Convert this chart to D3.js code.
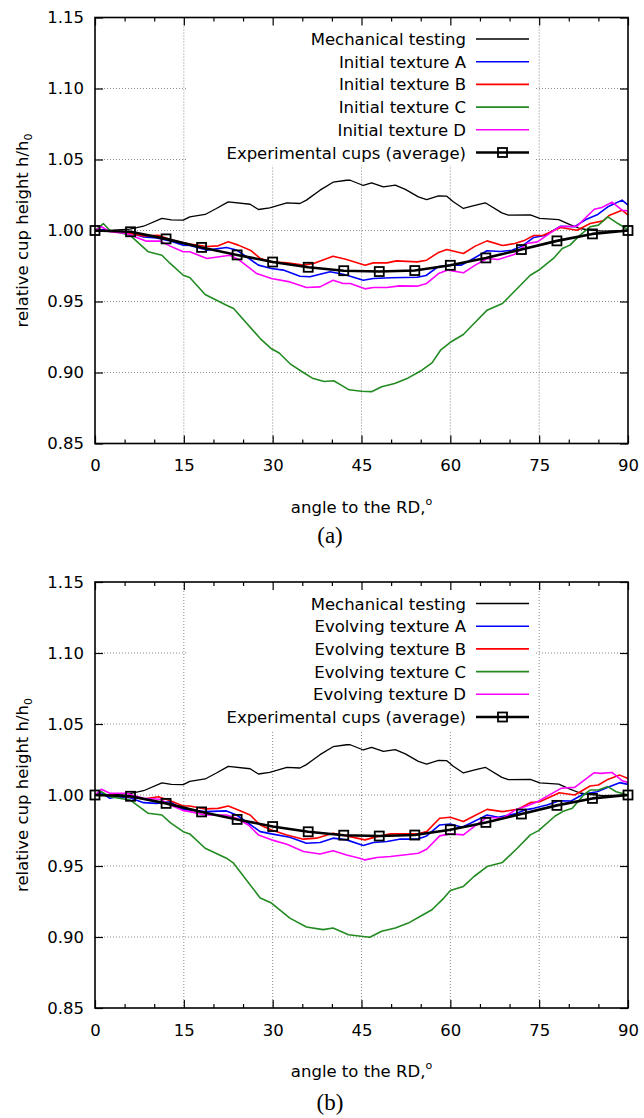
<!DOCTYPE html>
<html>
<head>
<meta charset="utf-8">
<script src="https://cdn.jsdelivr.net/npm/d3@7"></script>
<style>
  html, body { margin: 0; padding: 0; background: #fff; }
  svg { display: block; font-family: "DejaVu Sans", sans-serif; }
</style>
</head>
<body>
<svg id="chart" width="644" height="1118"></svg>
<script>
// ---------------- DATA ----------------
const xTicks = [0, 15, 30, 45, 60, 75, 90];
const yTicks = [0.85, 0.90, 0.95, 1.00, 1.05, 1.10, 1.15];

const legendA = ["Mechanical testing", "Initial texture A", "Initial texture B",
                 "Initial texture C", "Initial texture D", "Experimental cups (average)"];
const legendB = ["Mechanical testing", "Evolving texture A", "Evolving texture B",
                 "Evolving texture C", "Evolving texture D", "Experimental cups (average)"];
const captions = ["(a)", "(b)"];
const seriesColors = ["#000000", "#0000ff", "#ff0000", "#228b22", "#ff00ff", "#000000"];

// Mechanical testing (same in both panels): [angle, h/h0]
const mechanical = [[0,1.0],[3,1.0003],[5.9,1.0009],[8.2,1.003],[11.3,1.0085],[12.9,1.0075],
  [14.9,1.0073],[16,1.0096],[18.6,1.0113],[20.5,1.0155],[22.5,1.0202],[26.2,1.0185],
  [27.6,1.0148],[29.5,1.016],[32.4,1.0195],[34.6,1.019],[35.7,1.0214],[38,1.0284],
  [40.2,1.034],[42.5,1.0354],[43.1,1.0354],[45.3,1.0317],[46.7,1.0336],[48.7,1.0307],
  [50.7,1.032],[52.4,1.029],[54.6,1.0237],[56,1.0218],[58,1.0244],[59.4,1.0242],
  [60.5,1.0202],[62.2,1.0155],[63.8,1.0174],[65.9,1.0195],[68.7,1.0124],[69.8,1.0108],
  [73.5,1.011],[75.1,1.0085],[78.3,1.0077],[80.2,1.0042],[81.9,1.0014],[83.6,1.0002],
  [85.8,0.9995],[90,1.0]];

// Panel (a): initial textures
const initialA = [[0,1.0],[1.4,1.0007],[3.1,0.9995],[5.8,0.9984],[8.2,0.9955],[10.4,0.9948],
  [12.7,0.9927],[14.9,0.9897],[16,0.9894],[18.9,0.9862],[22.2,0.988],[23.9,0.9862],
  [25.6,0.9815],[27.6,0.9756],[29.8,0.9732],[31.8,0.9721],[34.6,0.9678],[36.3,0.9674],
  [39.7,0.9709],[41.9,0.9692],[43.1,0.9678],[45.3,0.965],[47,0.9662],[49.9,0.9667],
  [54.4,0.9671],[55.9,0.9683],[57.9,0.9744],[60.2,0.9756],[61.9,0.9756],[64.2,0.981],
  [66.2,0.9857],[68.4,0.9852],[70.4,0.9861],[72.1,0.989],[74.1,0.9951],[76.1,0.9967],
  [78.6,1.003],[80.9,1.0026],[82.9,1.0077],[84.9,1.0113],[86.6,1.0167],[89,1.0214],[90,1.0178]];

const initialB = [[0,1.0],[2.5,0.9995],[5.3,0.9984],[8.2,0.9962],[10.7,0.9967],[12.7,0.9937],
  [14.9,0.9913],[16,0.9904],[18.9,0.9887],[20.8,0.9892],[22.5,0.992],[24.2,0.9897],
  [26.4,0.9857],[27.9,0.9803],[29.8,0.9779],[32.4,0.9772],[35.2,0.9756],[36.9,0.9768],
  [40.2,0.9819],[42.5,0.9796],[45.6,0.9756],[47,0.9772],[49.3,0.9772],[50.9,0.9786],
  [54.4,0.9779],[56,0.9791],[57.9,0.9843],[59.4,0.9866],[62.2,0.9838],[64.2,0.989],
  [66.2,0.9927],[68.8,0.9894],[70.9,0.9908],[72.6,0.9932],[74.1,0.9965],[75.6,0.9965],
  [78.6,1.0021],[81.4,1.0002],[83.6,1.0049],[85.8,1.0068],[86.9,1.0108],[89,1.0143],[90,1.0108]];

const initialC = [[0,1.0],[1.4,1.0049],[2.5,1.0002],[5.9,0.9967],[9,0.985],[11.3,0.9826],
  [12.7,0.9768],[14.9,0.9685],[16,0.9669],[18.6,0.9549],[22.2,0.9474],[23.4,0.9451],
  [27.9,0.9239],[29.8,0.9167],[31.1,0.9137],[32.9,0.9063],[34.9,0.9007],[36.7,0.896],
  [38.7,0.8937],[40.3,0.8942],[41.5,0.8913],[42.9,0.8878],[45,0.8868],[46.7,0.8865],
  [48.4,0.8899],[50.6,0.8922],[52.9,0.8962],[55.2,0.9016],[56.9,0.9068],[58.4,0.9160],
  [60,0.9213],[62.2,0.9268],[64,0.9345],[66.2,0.9439],[68.8,0.9486],[71.3,0.9592],
  [73.5,0.9685],[74.9,0.972],[77.4,0.9803],[78.9,0.9873],[80.2,0.9897],[81.9,0.9967],
  [83.6,1.0026],[85,1.0038],[86.6,1.0096],[88.3,1.0049],[90,1.0007]];

const initialD = [[0,1.0],[1.1,1.0026],[2.5,0.9991],[5.3,0.9979],[8.7,0.9925],[11,0.9925],
  [12.7,0.989],[14.9,0.985],[16,0.985],[18.9,0.9803],[22.8,0.9826],[24.2,0.9796],
  [27.3,0.9697],[29.8,0.9662],[32.9,0.9638],[35.7,0.9599],[38,0.9603],[40.2,0.965],
  [41.9,0.9627],[43.1,0.9627],[45.6,0.9589],[47,0.9599],[49.3,0.9599],[51.4,0.961],
  [54.4,0.9608],[56,0.9627],[58,0.9697],[59.6,0.9721],[62.2,0.9702],[64.2,0.9756],
  [66.2,0.9803],[68.1,0.9796],[70.9,0.9833],[72.9,0.9908],[74.7,0.992],[78.4,1.0026],
  [81.4,1.0031],[84.3,1.015],[85.6,1.0162],[87.3,1.02],[89,1.0143],[90,1.0138]];

// Panel (b): evolving textures
const evolvingA = [[0,1.0],[1.1,1.0016],[2.5,0.9977],[3.7,0.9988],[5.9,0.9981],[8.2,0.9946],
  [10.4,0.9941],[12.7,0.9953],[14.9,0.9895],[16,0.9895],[18.6,0.9883],[22.2,0.9888],
  [23.9,0.9859],[25.9,0.9801],[27.9,0.9742],[29.8,0.9726],[32.9,0.9703],[35.7,0.966],
  [38,0.9665],[40.2,0.9696],[42.5,0.9684],[45.3,0.9644],[47,0.9665],[49.3,0.9672],
  [51.4,0.9689],[54.4,0.9689],[56,0.9712],[58.2,0.9789],[60,0.9796],[62,0.9773],
  [64,0.9813],[66.2,0.9859],[68.1,0.9843],[70.9,0.9867],[72.6,0.9895],[74.1,0.9906],
  [76.3,0.993],[78.4,0.996],[80.4,0.9958],[82.5,1.0007],[84.8,1.0023],[86.6,1.0054],
  [88.6,1.0087],[90,1.0075]];

const evolvingB = [[0,1.0],[2.5,1.0],[5.9,0.9988],[8.2,0.9972],[10.7,0.9988],[12.7,0.996],
  [14.9,0.9923],[16,0.9923],[18.6,0.9902],[20.8,0.9906],[22.5,0.9923],[24.2,0.9895],
  [26.2,0.9859],[27.9,0.9789],[29.8,0.9754],[32.4,0.9719],[35.2,0.9689],[37.4,0.9696],
  [40.2,0.9731],[42.5,0.9712],[45.6,0.9684],[47.6,0.9707],[49.9,0.9726],[54.4,0.9726],
  [56,0.9742],[58.2,0.9836],[60,0.9843],[62.2,0.9813],[64,0.9852],[66.2,0.9899],
  [68.8,0.9883],[71.3,0.9899],[73.5,0.9946],[75.1,0.9953],[78.4,1.0016],[81,1.0],
  [83.6,1.0063],[85,1.007],[86.6,1.011],[88.6,1.014],[90,1.0117]];

const evolvingC = [[0,1.0],[1.1,1.0023],[2.5,0.9988],[5.9,0.9965],[9,0.9871],[11.3,0.9859],
  [12.7,0.9806],[14.9,0.9742],[16,0.9726],[18.6,0.9625],[22.2,0.9555],[23.4,0.952],
  [27.9,0.9274],[29.8,0.9239],[32.9,0.9133],[35.7,0.907],[38.5,0.9052],[40.2,0.9063],
  [42.8,0.9016],[44.2,0.9009],[46.4,0.8998],[48.4,0.904],[50.7,0.9063],[52.9,0.9098],
  [55.4,0.9157],[56.9,0.9192],[58.9,0.9274],[60,0.9328],[62.2,0.9356],[64,0.9426],
  [66.2,0.9496],[68.8,0.9525],[71.3,0.9625],[73.5,0.9719],[74.9,0.9749],[77.7,0.9852],
  [79.2,0.9888],[80.6,0.9906],[82.5,1.0],[83.6,1.0035],[85,1.0035],[86.6,1.0059],
  [88,1.0023],[90,1.0]];

const evolvingD = [[0,1.0],[1.1,1.004],[2.5,1.0012],[5.3,1.0012],[8.2,0.9977],[11,0.997],
  [12.7,0.993],[14.9,0.989],[16,0.9883],[18.6,0.9859],[22.2,0.9859],[23.9,0.9836],
  [25.9,0.9789],[27.6,0.9719],[29.8,0.9684],[32.4,0.9653],[35.2,0.9602],[38,0.9585],
  [40.2,0.9607],[42.5,0.9578],[44.7,0.9555],[45.6,0.9543],[47.6,0.956],[49.9,0.9567],
  [52.1,0.9578],[54.6,0.959],[56,0.9618],[58.2,0.9712],[60,0.9726],[62.2,0.9719],
  [64,0.9778],[66.2,0.9843],[68.8,0.9836],[71,0.9895],[72.9,0.9923],[74.7,0.9953],
  [78.7,1.0047],[81,1.0054],[84.3,1.0157],[85.4,1.0152],[87.3,1.0159],[89,1.0101],[90,1.0089]];

// Experimental cups (average), every 6 degrees
const expAngles = [0, 6, 12, 18, 24, 30, 36, 42, 48, 54, 60, 66, 72, 78, 84, 90];
const expValues = [1.0, 0.9991, 0.9941, 0.9881, 0.9828, 0.9778, 0.9741, 0.9717,
                   0.9711, 0.9718, 0.9755, 0.9807, 0.9866, 0.9927, 0.9976, 1.0];

// ---------------- LAYOUT ----------------
const svg = d3.select("#chart");
const X0 = 95, X1 = 628;
const panels = [
  { top: 17.5, bottom: 443.5, legend: legendA, series: [mechanical, initialA, initialB, initialC, initialD], caption: captions[0], capY: 543 },
  { top: 582, bottom: 1008, legend: legendB, series: [mechanical, evolvingA, evolvingB, evolvingC, evolvingD], caption: captions[1], capY: 1110 }
];
const FS = 16.5;

const expData = expAngles.map((a, i) => [a, expValues[i]]);

panels.forEach(p => {
  const g = svg.append("g");
  const x = d3.scaleLinear().domain([0, 90]).range([X0, X1]);
  const y = d3.scaleLinear().domain([0.85, 1.15]).range([p.bottom, p.top]);

  // grid
  const grid = g.append("g").attr("stroke", "#8a8a8a").attr("stroke-width", 1)
    .attr("stroke-dasharray", "1,2").attr("fill", "none");
  xTicks.slice(1, -1).forEach(t => {
    grid.append("line").attr("x1", x(t)).attr("x2", x(t)).attr("y1", p.top).attr("y2", p.bottom);
  });
  yTicks.slice(1, -1).forEach(t => {
    grid.append("line").attr("x1", X0).attr("x2", X1).attr("y1", y(t)).attr("y2", y(t));
  });

  // legend background (opaque key)
  g.append("rect").attr("x", 188).attr("y", p.top + 1).attr("width", 348).attr("height", 147)
    .attr("fill", "#fff");

  // curves
  const line = d3.line().x(d => x(d[0])).y(d => y(d[1]));
  const clip = g.append("g");
  p.series.forEach((s, i) => {
    clip.append("path").datum(s).attr("d", line).attr("fill", "none")
      .attr("stroke", seriesColors[i]).attr("stroke-width", i === 0 ? 1.3 : 1.6)
      .attr("stroke-linejoin", "round");
  });
  clip.append("path").datum(expData).attr("d", line).attr("fill", "none")
    .attr("stroke", "#000").attr("stroke-width", 2.6).attr("stroke-linejoin", "round");
  clip.selectAll("rect.m").data(expData).enter().append("rect")
    .attr("x", d => x(d[0]) - 4.5).attr("y", d => y(d[1]) - 4.5)
    .attr("width", 9).attr("height", 9)
    .attr("fill", "none").attr("stroke", "#000").attr("stroke-width", 1.8);

  // axes
  const minor = d3.range(0, 91, 5).filter(v => v % 15 !== 0);
  const axB = g.append("g").attr("transform", `translate(0,${p.bottom})`)
    .call(d3.axisBottom(x).tickValues(xTicks).tickSize(-8).tickPadding(16).tickFormat(d3.format("d")));
  const axBm = g.append("g").attr("transform", `translate(0,${p.bottom})`)
    .call(d3.axisBottom(x).tickValues(minor).tickSize(-4).tickFormat(""));
  const axT = g.append("g").attr("transform", `translate(0,${p.top})`)
    .call(d3.axisTop(x).tickValues(xTicks).tickSize(-8).tickFormat(""));
  const axTm = g.append("g").attr("transform", `translate(0,${p.top})`)
    .call(d3.axisTop(x).tickValues(minor).tickSize(-4).tickFormat(""));
  const axL = g.append("g").attr("transform", `translate(${X0},0)`)
    .call(d3.axisLeft(y).tickValues(yTicks).tickSize(-8).tickPadding(11).tickFormat(d3.format(".2f")));
  const axR = g.append("g").attr("transform", `translate(${X1},0)`)
    .call(d3.axisRight(y).tickValues(yTicks).tickSize(-8).tickFormat(""));
  [axB, axBm, axT, axTm, axL, axR].forEach(a => {
    a.select(".domain").remove();
    a.selectAll("line").attr("stroke", "#000").attr("stroke-width", 1.2);
    a.selectAll("text").attr("font-family", "DejaVu Sans, sans-serif")
      .attr("font-size", FS).attr("fill", "#000");
  });
  g.append("rect").attr("x", X0).attr("y", p.top).attr("width", X1 - X0).attr("height", p.bottom - p.top)
    .attr("fill", "none").attr("stroke", "#000").attr("stroke-width", 1.6);

  // legend entries
  const names = p.legend;
  names.forEach((n, i) => {
    const cy = p.top + 21.5 + i * 22.7;
    g.append("text").attr("x", 466).attr("y", cy + 6).attr("text-anchor", "end")
      .attr("font-size", FS).text(n);
    const isExp = i === names.length - 1;
    g.append("line").attr("x1", 476).attr("x2", 529).attr("y1", cy).attr("y2", cy)
      .attr("stroke", seriesColors[i]).attr("stroke-width", isExp ? 2.6 : (i === 0 ? 1.3 : 1.6));
    if (isExp) {
      g.append("rect").attr("x", 502.5 - 4.5).attr("y", cy - 4.5).attr("width", 9).attr("height", 9)
        .attr("fill", "none").attr("stroke", "#000").attr("stroke-width", 1.8);
    }
  });

  // axis titles
  const xl = g.append("text").attr("x", (X0 + X1) / 2).attr("y", p.bottom + 69)
    .attr("text-anchor", "middle").attr("font-size", FS);
  xl.append("tspan").text("angle to the RD,");
  xl.append("tspan").attr("font-size", 11).attr("dy", -8).text("o");

  const cyl = (p.top + p.bottom) / 2;
  const yl = g.append("text").attr("transform", `translate(28,${cyl}) rotate(-90)`)
    .attr("text-anchor", "middle").attr("font-size", FS);
  yl.append("tspan").text("relative cup height h/h");
  yl.append("tspan").attr("font-size", 11).attr("dy", 4).text("0");

  // caption
  g.append("text").attr("x", 330).attr("y", p.capY).attr("text-anchor", "middle")
    .attr("font-family", "Liberation Serif, serif").attr("font-size", 23).text(p.caption);
});
</script>
</body>
</html>
